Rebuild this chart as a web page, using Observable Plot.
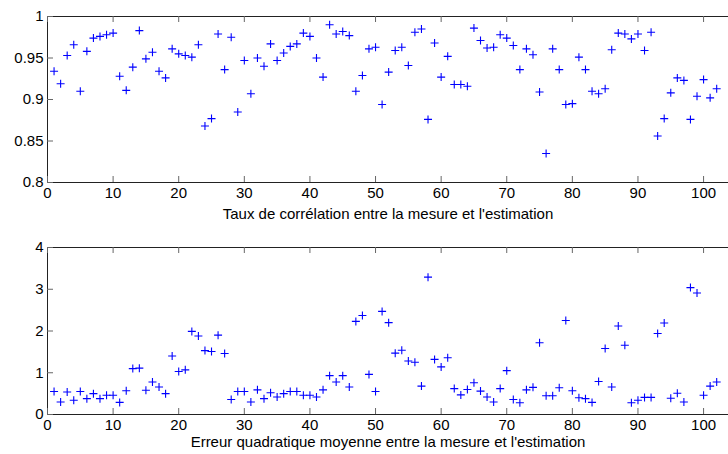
<!DOCTYPE html>
<html>
<head>
<meta charset="utf-8">
<script src="https://cdn.jsdelivr.net/npm/d3@7"></script>
<script src="https://cdn.jsdelivr.net/npm/@observablehq/plot@0.6"></script>
<style>
  html, body { margin: 0; padding: 0; background: #fff; }
  #chart svg { display: block; }
</style>
</head>
<body>
<div id="chart"></div>
<script>
// ---- data ----
const measureIndex = d3.range(1, 103);
const correlation = [0.934,0.919,0.953,0.966,0.910,0.958,0.974,0.976,0.978,0.980,
0.928,0.911,0.939,0.983,0.949,0.957,0.934,0.926,0.961,0.955,
0.953,0.951,0.966,0.868,0.877,0.979,0.936,0.975,0.885,0.947,
0.907,0.950,0.940,0.967,0.947,0.956,0.964,0.967,0.980,0.976,
0.950,0.927,0.990,0.979,0.982,0.977,0.910,0.929,0.961,0.963,
0.894,0.933,0.959,0.963,0.941,0.981,0.985,0.876,0.968,0.927,
0.952,0.918,0.918,0.916,0.986,0.971,0.962,0.963,0.978,0.974,
0.965,0.936,0.961,0.954,0.909,0.835,0.961,0.936,0.894,0.895,
0.951,0.936,0.910,0.907,0.913,0.960,0.980,0.979,0.973,0.979,
0.959,0.981,0.856,0.877,0.908,0.926,0.923,0.876,0.904,0.924,
0.902,0.913];
const rmse = [0.55,0.30,0.54,0.34,0.55,0.38,0.50,0.38,0.46,0.46,
0.29,0.57,1.10,1.11,0.58,0.78,0.66,0.50,1.40,1.03,
1.07,1.99,1.88,1.53,1.51,1.90,1.46,0.36,0.55,0.55,
0.30,0.59,0.38,0.52,0.42,0.50,0.55,0.55,0.46,0.46,
0.42,0.59,0.93,0.78,0.93,0.66,2.23,2.37,0.96,0.55,
2.47,2.20,1.47,1.54,1.28,1.25,0.68,3.29,1.32,1.14,
1.36,0.62,0.47,0.60,0.76,0.56,0.42,0.30,0.62,1.05,
0.36,0.28,0.59,0.65,1.72,0.45,0.45,0.64,2.25,0.57,
0.40,0.38,0.29,0.79,1.58,0.66,2.12,1.66,0.28,0.34,
0.41,0.41,1.94,2.19,0.39,0.51,0.30,3.04,2.91,0.46,
0.68,0.78];
const xTicks = [0, 10, 20, 30, 40, 50, 60, 70, 80, 90, 100];
const xTickLabels = ["0","10","20","30","40","50","60","70","80","90","100"];
const yTicksTop = [0.8, 0.85, 0.9, 0.95, 1];
const yTickLabelsTop = ["0.8","0.85","0.9","0.95","1"];
const yTicksBottom = [0, 1, 2, 3, 4];
const yTickLabelsBottom = ["0","1","2","3","4"];
const titleTop = "Taux de corrélation entre la mesure et l'estimation";
const titleBottom = "Erreur quadratique moyenne entre la mesure et l'estimation";

// ---- drawing ----
const plusSymbol = {
  draw(ctx, size) {
    const r = Math.sqrt(size / Math.PI);
    ctx.moveTo(-r, 0); ctx.lineTo(r, 0);
    ctx.moveTo(0, -r); ctx.lineTo(0, r);
  }
};

function panel({values, yDomain, yTicks, yLabels, title, height, marginTop, marginBottom, labelOffset}) {
  const width = 728, marginLeft = 47, marginRight = 0;
  const innerH = height - marginTop - marginBottom;
  const innerW = width - marginLeft - marginRight;
  const data = measureIndex.map((x, i) => ({x, y: values[i]}));
  return Plot.plot({
    width, height, marginLeft, marginRight, marginTop, marginBottom,
    style: {fontFamily: "'Liberation Sans', Arial, sans-serif", fontSize: "15px", background: "#fff", color: "#000"},
    x: {domain: [0, 103.8]},
    y: {domain: yDomain},
    marks: [
      Plot.ruleY([yDomain[0]], {stroke: "#222"}),
      Plot.ruleY([yDomain[1]], {stroke: "#222"}),
      Plot.ruleX([0], {stroke: "#222"}),
      Plot.tickX(xTicks, {x: d => d, insetTop: innerH - 6, stroke: "#666"}),
      Plot.tickX(xTicks, {x: d => d, insetBottom: innerH - 6, stroke: "#666"}),
      Plot.tickY(yTicks, {y: d => d, insetRight: innerW - 6, stroke: "#666"}),
      Plot.axisX(xTicks, {tickSize: 0, tickPadding: 5, tickFormat: (d, i) => xTickLabels[i],
        label: title, labelAnchor: "center", labelArrow: "none", labelOffset, fontSize: 15}),
      Plot.axisY(yTicks, {tickSize: 0, tickPadding: 4, tickFormat: (d, i) => yLabels[i], label: null, fontSize: 15}),
      Plot.dot(data, {x: "x", y: "y", symbol: plusSymbol, r: 4, stroke: "#0000ff", fill: "none", strokeWidth: 1.1})
    ]
  });
}

const chart = document.getElementById("chart");
chart.append(panel({values: correlation, yDomain: [0.8, 1], yTicks: yTicksTop, yLabels: yTickLabelsTop,
  title: titleTop, height: 232, marginTop: 16, marginBottom: 50, labelOffset: 36}));
chart.append(panel({values: rmse, yDomain: [0, 4], yTicks: yTicksBottom, yLabels: yTickLabelsBottom,
  title: titleBottom, height: 222, marginTop: 15, marginBottom: 40, labelOffset: 32}));
</script>
</body>
</html>
